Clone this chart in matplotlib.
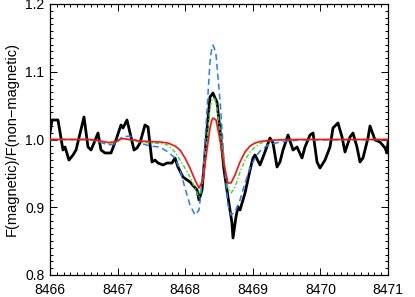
import matplotlib
matplotlib.use("Agg")
import matplotlib.pyplot as plt
from matplotlib.ticker import MultipleLocator

# Observed ratio (black)
obs_wl = [8466.000, 8466.030, 8466.118, 8466.192, 8466.222, 8466.281, 8466.340, 8466.385,
          8466.503, 8466.562, 8466.607, 8466.651, 8466.710, 8466.754, 8466.814, 8466.902,
          8466.976, 8467.050, 8467.080, 8467.139, 8467.198, 8467.243, 8467.287, 8467.331,
          8467.405, 8467.450, 8467.509, 8467.553, 8467.598, 8467.672, 8467.731, 8467.805,
          8467.849, 8467.893, 8467.967, 8468.071, 8468.175, 8468.204, 8468.249, 8468.322,
          8468.367, 8468.411, 8468.441, 8468.470, 8468.515, 8468.574, 8468.633, 8468.692,
          8468.707, 8468.751, 8468.781, 8468.811, 8468.885, 8468.959, 8469.003, 8469.033,
          8469.107, 8469.180, 8469.254, 8469.299, 8469.358, 8469.402, 8469.447, 8469.521,
          8469.595, 8469.654, 8469.728, 8469.772, 8469.846, 8469.891, 8469.950, 8469.994,
          8470.068, 8470.142, 8470.186, 8470.260, 8470.320, 8470.364, 8470.438, 8470.482,
          8470.541, 8470.586, 8470.630, 8470.704, 8470.734, 8470.808, 8470.882, 8470.956,
          8470.985, 8471.000]
obs_f = [1.0096, 1.0288, 1.0288, 0.9845, 0.9889, 0.9697, 0.9771, 0.9845,
         1.0332, 0.9889, 0.9845, 0.9948, 1.0096, 0.9845, 0.9801, 0.9801,
         0.9993, 1.0214, 1.0170, 1.0288, 1.0037, 0.9845, 0.9875, 0.9948,
         1.0214, 1.0185, 0.9668, 0.9697, 0.9653, 0.9624, 0.9653, 0.9653,
         0.9727, 0.9594, 0.9446, 0.9373, 0.9255, 0.9107, 0.9255, 1.0140,
         1.0627, 1.0686, 1.0613, 1.0554, 1.0140, 0.9550, 0.9151, 0.8768,
         0.8546, 0.8856, 0.9004, 0.8959, 0.9210, 0.9550, 0.9727, 0.9771,
         0.9624, 0.9815, 1.0022, 0.9948, 0.9594, 0.9668, 0.9845, 1.0066,
         0.9845, 0.9889, 0.9727, 0.9889, 1.0066, 1.0096, 0.9668, 0.9579,
         0.9697, 0.9889, 1.0170, 1.0244, 1.0037, 0.9815, 1.0037, 1.0096,
         0.9889, 0.9668, 0.9727, 1.0022, 1.0199, 0.9993, 0.9963, 0.9875,
         0.9801, 0.9963]

# Model wavelengths
mod_wl = [8466.000, 8466.296, 8466.592, 8466.740, 8466.858, 8466.962, 8467.065, 8467.183,
          8467.331, 8467.479, 8467.627, 8467.746, 8467.849, 8467.923, 8467.997, 8468.071,
          8468.145, 8468.204, 8468.263, 8468.322, 8468.367, 8468.389, 8468.411, 8468.433,
          8468.456, 8468.515, 8468.574, 8468.633, 8468.678, 8468.737, 8468.811, 8468.885,
          8468.959, 8469.033, 8469.107, 8469.225, 8469.402, 8469.698, 8471.000]

red_f = [1.0000, 1.0000, 1.0000, 0.9978, 0.9956, 0.9963, 1.0015, 1.0000,
         0.9978, 0.9970, 0.9963, 0.9948, 0.9904, 0.9845, 0.9727, 0.9579,
         0.9402, 0.9284, 0.9402, 0.9845, 1.0170, 1.0270, 1.0317, 1.0305,
         1.0288, 0.9993, 0.9624, 0.9358, 0.9358, 0.9476, 0.9668, 0.9815,
         0.9904, 0.9948, 0.9970, 0.9985, 0.9996, 1.0000, 1.0000]

green_f = [1.0000, 1.0000, 1.0000, 0.9970, 0.9948, 0.9948, 1.0015, 0.9993,
           0.9963, 0.9948, 0.9941, 0.9919, 0.9815, 0.9697, 0.9579, 0.9446,
           0.9284, 0.9151, 0.9402, 0.9993, 1.0465, 1.0570, 1.0613, 1.0600,
           1.0554, 1.0140, 0.9668, 0.9284, 0.9210, 0.9299, 0.9520, 0.9697,
           0.9815, 0.9889, 0.9941, 0.9978, 0.9993, 1.0000, 1.0000]

blue_f = [1.0000, 1.0000, 1.0000, 0.9963, 0.9919, 0.9934, 1.0037, 1.0052,
          0.9948, 0.9904, 0.9889, 0.9815, 0.9727, 0.9550, 0.9284, 0.9033,
          0.8886, 0.8959, 0.9476, 1.0435, 1.1144, 1.1320, 1.1395, 1.1340,
          1.1247, 1.0583, 0.9697, 0.9033, 0.8886, 0.8930, 0.9107, 0.9358,
          0.9579, 0.9727, 0.9830, 0.9919, 0.9963, 0.9993, 1.0000]

plt.rcParams['font.family'] = ['Liberation Sans', 'DejaVu Sans']

fig = plt.figure(figsize=(4.15, 2.97), dpi=100)
ax = fig.add_axes([50/415, 22/297, 338/415, 271/297])

ax.plot(obs_wl, obs_f, color='black', lw=2.0, zorder=2)
ax.plot(mod_wl, blue_f, color='#2a78ff', lw=1.1, ls=(0, (4, 2.5)), zorder=3)
ax.plot(mod_wl, green_f, color='#2ee02e', lw=1.0, ls=(0, (3, 1.5, 1, 1.5)), zorder=4)
ax.plot(mod_wl, red_f, color='#ff1010', lw=1.2, zorder=5)

ax.set_xlim(8466, 8471)
ax.set_ylim(0.8, 1.2)
ax.xaxis.set_major_locator(MultipleLocator(1))
ax.xaxis.set_minor_locator(MultipleLocator(0.1))
ax.yaxis.set_major_locator(MultipleLocator(0.1))
ax.yaxis.set_minor_locator(MultipleLocator(0.01))
ax.xaxis.set_major_formatter(matplotlib.ticker.FormatStrFormatter('%d'))
ax.yaxis.set_major_formatter(matplotlib.ticker.FormatStrFormatter('%.1f'))
ax.tick_params(which='both', direction='in', top=True, right=True, color='black', width=0.7)
ax.tick_params(which='major', length=5, labelsize=10)
ax.tick_params(axis='x', which='major', pad=6)
ax.tick_params(axis='y', which='major', pad=4)
ax.tick_params(which='minor', length=2.5)
for s in ax.spines.values():
    s.set_linewidth(0.9)

ax.set_ylabel('F(magnetic)/F(non\u2212magnetic)', fontsize=10.5, labelpad=5)

fig.savefig('out.png', dpi=100)
